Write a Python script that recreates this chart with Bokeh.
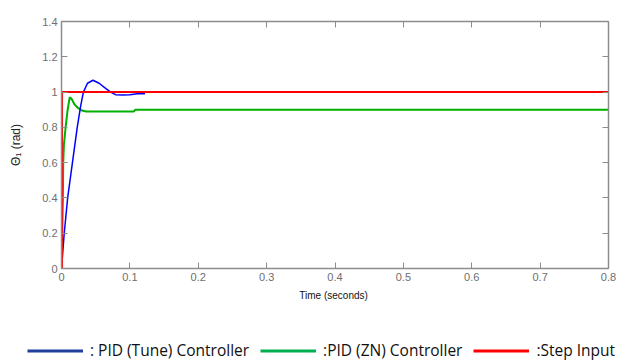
from bokeh.plotting import figure
from bokeh.layouts import column
from bokeh.models import LinearAxis, FixedTicker, Legend, LegendItem, Range1d
from bokeh.embed import file_html
from bokeh.resources import INLINE

# ---- data ----
tune_t = [0, 0.001, 0.004, 0.009, 0.016, 0.023, 0.028, 0.032, 0.038, 0.046, 0.055,
          0.065, 0.072, 0.079, 0.090, 0.100, 0.111, 0.122]
tune_y = [0, 0.05, 0.2, 0.4, 0.6, 0.8, 0.92, 1.0, 1.05, 1.067, 1.05,
          1.02, 1.0, 0.985, 0.983, 0.985, 0.99, 0.99]

zn_t = [0, 0.001, 0.002, 0.0025, 0.0035, 0.006, 0.009, 0.012, 0.015, 0.019,
        0.024, 0.030, 0.036, 0.106, 0.108, 0.8]
zn_y = [0, 0.2, 0.4, 0.6, 0.7, 0.8, 0.9, 0.97, 0.96, 0.93,
        0.91, 0.895, 0.89, 0.89, 0.9, 0.9]

step_t = [0.0008, 0.0008, 0.8]
step_y = [0, 1, 1]

x_ticks = [0, 0.1, 0.2, 0.3, 0.4, 0.5, 0.6, 0.7, 0.8]
x_labels = ["0", "0.1", "0.2", "0.3", "0.4", "0.5", "0.6", "0.7", "0.8"]
y_ticks = [0, 0.2, 0.4, 0.6, 0.8, 1.0, 1.2, 1.4]
y_labels = ["0", "0.2", "0.4", "0.6", "0.8", "1", "1.2", "1.4"]

legend_labels = [": PID (Tune) Controller", ":PID (ZN) Controller", ":Step Input"]

AX = "#8c8c8c"
TICKLBL = "#6e6e6e"

p = figure(width=622, height=330, output_backend="svg", toolbar_location=None,
           x_range=Range1d(0, 0.8), y_range=Range1d(0, 1.4),
           min_border_left=61, min_border_right=14, min_border_top=21,
           min_border_bottom=62, background_fill_color="white",
           border_fill_color="white", outline_line_color=None)
p.frame_align = False
p.grid.visible = False

bottom = p.below[0]
left = p.left[0]
bottom.ticker = FixedTicker(ticks=x_ticks)
bottom.major_label_overrides = dict(zip(x_ticks, x_labels))
left.ticker = FixedTicker(ticks=y_ticks)
left.major_label_overrides = dict(zip(y_ticks, y_labels))

top = LinearAxis(ticker=FixedTicker(ticks=x_ticks),
                 major_label_overrides={t: "" for t in x_ticks},
                 major_label_text_font_size="1px", major_label_standoff=0)
right = LinearAxis(ticker=FixedTicker(ticks=y_ticks),
                   major_label_overrides={t: "" for t in y_ticks},
                   major_label_text_font_size="1px", major_label_standoff=0)
p.add_layout(top, "above")
p.add_layout(right, "right")

for ax in (bottom, left, top, right):
    ax.axis_line_color = AX
    ax.axis_line_width = 1.5
    ax.major_tick_line_color = AX
    ax.major_tick_in = 6
    ax.major_tick_out = 0
    ax.minor_tick_line_color = None
    ax.major_label_text_color = TICKLBL
    ax.major_label_text_font = "Liberation Sans"

bottom.major_label_text_font_size = "11px"
bottom.major_label_standoff = 4
left.major_label_text_font_size = "11px"
left.major_label_standoff = 4

bottom.axis_label = "Time  (seconds)"
bottom.axis_label_text_font = "Liberation Sans"
bottom.axis_label_text_font_size = "10px"
bottom.axis_label_text_font_style = "normal"
bottom.axis_label_text_color = "#111111"
bottom.axis_label_standoff = 6

left.axis_label = "Θ₁ (rad)"
left.axis_label_text_font = "Liberation Sans"
left.axis_label_text_font_size = "12px"
left.axis_label_text_font_style = "normal"
left.axis_label_text_color = "#222222"
left.axis_label_standoff = 16

p.line(zn_t, zn_y, line_color="#00b000", line_width=2)
p.line(tune_t, tune_y, line_color="#0000ff", line_width=1.5)
p.line(step_t, step_y, line_color="#ff0000", line_width=2)

# ---- legend strip below the chart ----
q = figure(width=622, height=31, output_backend="svg", toolbar_location=None,
           x_range=Range1d(0, 1), y_range=Range1d(0, 1),
           x_axis_location=None, y_axis_location=None,
           min_border=0, outline_line_color=None,
           background_fill_color="white", border_fill_color="white")
q.frame_align = False
q.grid.visible = False

lg1 = q.line([-5, -4], [-5, -4], line_color="#1f3f9a", line_width=3)
lg2 = q.line([-5, -4], [-5, -4], line_color="#00b050", line_width=3)
lg3 = q.line([-5, -4], [-5, -4], line_color="#ff0000", line_width=3)

legend = Legend(items=[LegendItem(label=legend_labels[0], renderers=[lg1]),
                       LegendItem(label=legend_labels[1], renderers=[lg2]),
                       LegendItem(label=legend_labels[2], renderers=[lg3])],
                orientation="horizontal", location=(27, 0),
                glyph_width=56, glyph_height=17, label_standoff=7, spacing=11,
                padding=0, margin=0, border_line_color=None,
                background_fill_alpha=0, label_text_font="Open Sans",
                label_text_font_size="15.5px", label_text_color="#111111",
                label_height=17)
q.add_layout(legend, "center")

layout = column(p, q, spacing=0)
open("out.html", "w").write(file_html(layout, INLINE))
